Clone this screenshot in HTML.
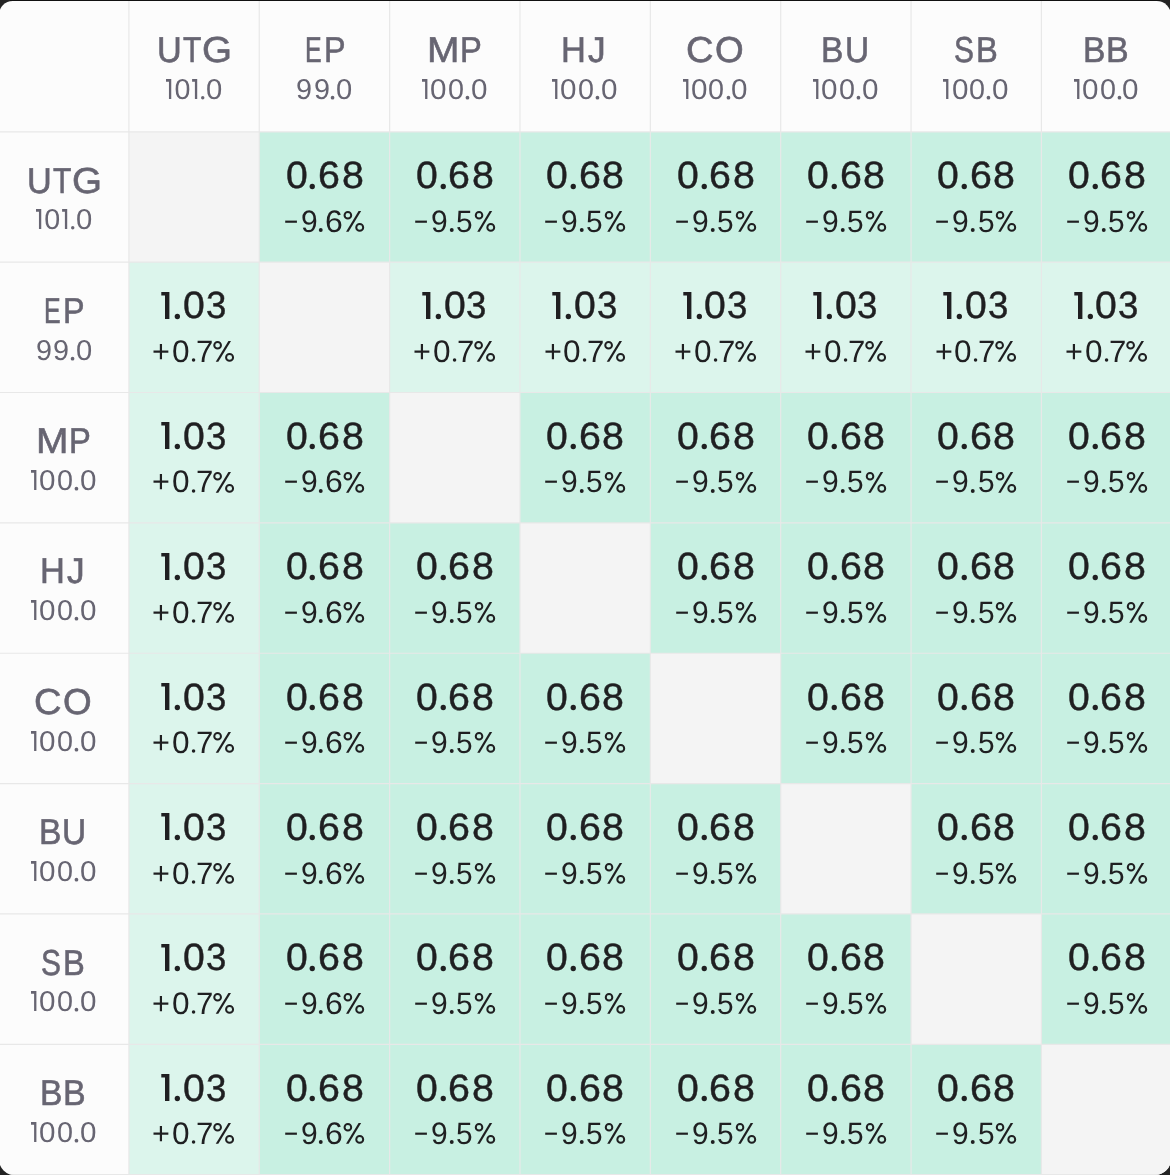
<!DOCTYPE html>
<html><head><meta charset="utf-8"><style>
html,body{margin:0;padding:0;width:1170px;height:1175px;overflow:hidden;background:#232323;}
#top{position:absolute;left:10px;top:0;width:1150px;height:2px;background:#111111;}
#card{position:absolute;left:-0.9px;top:1px;width:1171.8px;height:1174.06px;border-radius:13.7px 14.3px 16px 15.75px;background:#fcfcfc;overflow:hidden;}
#in{position:absolute;left:0.9px;top:-1px;width:1170px;height:1175px;will-change:transform;}
b{position:absolute;display:block;}
.gl{position:absolute;left:0;top:0;}
.t{position:absolute;width:0;height:0;line-height:1;white-space:nowrap;font-family:"Liberation Sans",sans-serif;text-rendering:geometricPrecision;}
.t>i{position:absolute;top:0;font-style:normal;transform-origin:0 0;}
.lab{font-size:36.0px;color:#676572;}
.lab>i{-webkit-text-stroke:0.6px #676572;}
.num{font-size:28.7px;color:#676572;}
.val{font-size:37.9px;color:#1f1f21;}
.val>i{-webkit-text-stroke:0.45px #1f1f21;}
.pct{font-size:31.0px;color:#1f1f21;}
.sv{position:absolute;overflow:visible;}
.numv{fill:#676572;}
.valv{fill:#1f1f21;}
.pctv{fill:none;stroke:#1f1f21;stroke-width:2px;}
.pctv .d{fill:#1f1f21;stroke:none;}
.s0>i:nth-child(2){left:-19.59px;transform:scaleX(1.000)}
.s0>i:nth-child(5){left:12.09px;transform:scaleX(1.021)}
.s1>i:nth-child(1){left:-28.09px;transform:scaleX(1.003)}
.s1>i:nth-child(2){left:-10.89px;transform:scaleX(1.003)}
.s1>i:nth-child(4){left:11.99px;transform:scaleX(1.018)}
.s2>i:nth-child(2){left:-24.72px;transform:scaleX(1.032)}
.s2>i:nth-child(3){left:-7.09px;transform:scaleX(1.003)}
.s2>i:nth-child(5){left:15.88px;transform:scaleX(1.032)}
.s3>i:nth-child(1){left:-38.81px;transform:scaleX(1.032)}
.s3>i:nth-child(3){left:-6.33px;transform:scaleX(1.039)}
.s3>i:nth-child(4){left:17.07px;transform:scaleX(1.038)}
.s4>i:nth-child(3){left:-11.31px;transform:scaleX(1.032)}
.s4>i:nth-child(4){left:11.57px;transform:scaleX(0.967)}
.s5>i:nth-child(1){left:-40.91px;transform:scaleX(0.779)}
.s5>i:nth-child(2){left:-23.91px;transform:scaleX(0.969)}
.s5>i:nth-child(4){left:1.29px;transform:scaleX(0.964)}
.s6>i:nth-child(1){left:-40.91px;transform:scaleX(0.779)}
.s6>i:nth-child(2){left:-23.91px;transform:scaleX(0.969)}
.s6>i:nth-child(4){left:0.2px;transform:scaleX(1.032)}
.s7>i:nth-child(1){left:-41.63px;transform:scaleX(0.986)}
.s7>i:nth-child(2){left:-21.88px;transform:scaleX(1.019)}
.s7>i:nth-child(4){left:2.04px;transform:scaleX(1.004)}
.s8>i:nth-child(1){left:-36.88px;transform:scaleX(0.952)}
.s8>i:nth-child(2){left:-10.82px;transform:scaleX(0.833)}
.s8>i:nth-child(3){left:8.39px;transform:scaleX(1.071)}
.s9>i:nth-child(1){left:-19.47px;transform:scaleX(0.692)}
.s9>i:nth-child(2){left:-0.93px;transform:scaleX(0.898)}
.s10>i:nth-child(1){left:-27.82px;transform:scaleX(1.081)}
.s10>i:nth-child(2){left:4.95px;transform:scaleX(0.909)}
.s11>i:nth-child(1){left:-23.68px;transform:scaleX(0.957)}
.s11>i:nth-child(2){left:3.11px;transform:scaleX(0.980)}
.s12>i:nth-child(1){left:-29.69px;transform:scaleX(1.060)}
.s12>i:nth-child(2){left:-0.83px;transform:scaleX(1.024)}
.s13>i:nth-child(1){left:-24.82px;transform:scaleX(0.934)}
.s13>i:nth-child(2){left:-1.32px;transform:scaleX(0.929)}
.s14>i:nth-child(1){left:-22.46px;transform:scaleX(0.831)}
.s14>i:nth-child(2){left:-0.65px;transform:scaleX(0.909)}
.s15>i:nth-child(1){left:-24.02px;transform:scaleX(0.934)}
.s15>i:nth-child(2){left:-0.95px;transform:scaleX(0.944)}
</style></head><body>
<div id="top"></div>
<div id="card"><div id="in">
<b style="left:128.9px;top:131.8px;width:130.36px;height:130.36px;background:#f4f4f4"></b>
<b style="left:259.26px;top:131.8px;width:130.36px;height:130.36px;background:#c8f0e2"></b>
<b style="left:389.62px;top:131.8px;width:130.36px;height:130.36px;background:#c8f0e2"></b>
<b style="left:519.98px;top:131.8px;width:130.36px;height:130.36px;background:#c8f0e2"></b>
<b style="left:650.34px;top:131.8px;width:130.36px;height:130.36px;background:#c8f0e2"></b>
<b style="left:780.7px;top:131.8px;width:130.36px;height:130.36px;background:#c8f0e2"></b>
<b style="left:911.06px;top:131.8px;width:130.36px;height:130.36px;background:#c8f0e2"></b>
<b style="left:1041.42px;top:131.8px;width:133.58px;height:130.36px;background:#c8f0e2"></b>
<b style="left:128.9px;top:262.16px;width:130.36px;height:130.36px;background:#dcf5ec"></b>
<b style="left:259.26px;top:262.16px;width:130.36px;height:130.36px;background:#f4f4f4"></b>
<b style="left:389.62px;top:262.16px;width:130.36px;height:130.36px;background:#dcf5ec"></b>
<b style="left:519.98px;top:262.16px;width:130.36px;height:130.36px;background:#dcf5ec"></b>
<b style="left:650.34px;top:262.16px;width:130.36px;height:130.36px;background:#dcf5ec"></b>
<b style="left:780.7px;top:262.16px;width:130.36px;height:130.36px;background:#dcf5ec"></b>
<b style="left:911.06px;top:262.16px;width:130.36px;height:130.36px;background:#dcf5ec"></b>
<b style="left:1041.42px;top:262.16px;width:133.58px;height:130.36px;background:#dcf5ec"></b>
<b style="left:128.9px;top:392.52px;width:130.36px;height:130.36px;background:#dcf5ec"></b>
<b style="left:259.26px;top:392.52px;width:130.36px;height:130.36px;background:#c8f0e2"></b>
<b style="left:389.62px;top:392.52px;width:130.36px;height:130.36px;background:#f4f4f4"></b>
<b style="left:519.98px;top:392.52px;width:130.36px;height:130.36px;background:#c8f0e2"></b>
<b style="left:650.34px;top:392.52px;width:130.36px;height:130.36px;background:#c8f0e2"></b>
<b style="left:780.7px;top:392.52px;width:130.36px;height:130.36px;background:#c8f0e2"></b>
<b style="left:911.06px;top:392.52px;width:130.36px;height:130.36px;background:#c8f0e2"></b>
<b style="left:1041.42px;top:392.52px;width:133.58px;height:130.36px;background:#c8f0e2"></b>
<b style="left:128.9px;top:522.88px;width:130.36px;height:130.36px;background:#dcf5ec"></b>
<b style="left:259.26px;top:522.88px;width:130.36px;height:130.36px;background:#c8f0e2"></b>
<b style="left:389.62px;top:522.88px;width:130.36px;height:130.36px;background:#c8f0e2"></b>
<b style="left:519.98px;top:522.88px;width:130.36px;height:130.36px;background:#f4f4f4"></b>
<b style="left:650.34px;top:522.88px;width:130.36px;height:130.36px;background:#c8f0e2"></b>
<b style="left:780.7px;top:522.88px;width:130.36px;height:130.36px;background:#c8f0e2"></b>
<b style="left:911.06px;top:522.88px;width:130.36px;height:130.36px;background:#c8f0e2"></b>
<b style="left:1041.42px;top:522.88px;width:133.58px;height:130.36px;background:#c8f0e2"></b>
<b style="left:128.9px;top:653.24px;width:130.36px;height:130.36px;background:#dcf5ec"></b>
<b style="left:259.26px;top:653.24px;width:130.36px;height:130.36px;background:#c8f0e2"></b>
<b style="left:389.62px;top:653.24px;width:130.36px;height:130.36px;background:#c8f0e2"></b>
<b style="left:519.98px;top:653.24px;width:130.36px;height:130.36px;background:#c8f0e2"></b>
<b style="left:650.34px;top:653.24px;width:130.36px;height:130.36px;background:#f4f4f4"></b>
<b style="left:780.7px;top:653.24px;width:130.36px;height:130.36px;background:#c8f0e2"></b>
<b style="left:911.06px;top:653.24px;width:130.36px;height:130.36px;background:#c8f0e2"></b>
<b style="left:1041.42px;top:653.24px;width:133.58px;height:130.36px;background:#c8f0e2"></b>
<b style="left:128.9px;top:783.6px;width:130.36px;height:130.36px;background:#dcf5ec"></b>
<b style="left:259.26px;top:783.6px;width:130.36px;height:130.36px;background:#c8f0e2"></b>
<b style="left:389.62px;top:783.6px;width:130.36px;height:130.36px;background:#c8f0e2"></b>
<b style="left:519.98px;top:783.6px;width:130.36px;height:130.36px;background:#c8f0e2"></b>
<b style="left:650.34px;top:783.6px;width:130.36px;height:130.36px;background:#c8f0e2"></b>
<b style="left:780.7px;top:783.6px;width:130.36px;height:130.36px;background:#f4f4f4"></b>
<b style="left:911.06px;top:783.6px;width:130.36px;height:130.36px;background:#c8f0e2"></b>
<b style="left:1041.42px;top:783.6px;width:133.58px;height:130.36px;background:#c8f0e2"></b>
<b style="left:128.9px;top:913.96px;width:130.36px;height:130.36px;background:#dcf5ec"></b>
<b style="left:259.26px;top:913.96px;width:130.36px;height:130.36px;background:#c8f0e2"></b>
<b style="left:389.62px;top:913.96px;width:130.36px;height:130.36px;background:#c8f0e2"></b>
<b style="left:519.98px;top:913.96px;width:130.36px;height:130.36px;background:#c8f0e2"></b>
<b style="left:650.34px;top:913.96px;width:130.36px;height:130.36px;background:#c8f0e2"></b>
<b style="left:780.7px;top:913.96px;width:130.36px;height:130.36px;background:#c8f0e2"></b>
<b style="left:911.06px;top:913.96px;width:130.36px;height:130.36px;background:#f4f4f4"></b>
<b style="left:1041.42px;top:913.96px;width:133.58px;height:130.36px;background:#c8f0e2"></b>
<b style="left:128.9px;top:1044.32px;width:130.36px;height:135.68px;background:#dcf5ec"></b>
<b style="left:259.26px;top:1044.32px;width:130.36px;height:135.68px;background:#c8f0e2"></b>
<b style="left:389.62px;top:1044.32px;width:130.36px;height:135.68px;background:#c8f0e2"></b>
<b style="left:519.98px;top:1044.32px;width:130.36px;height:135.68px;background:#c8f0e2"></b>
<b style="left:650.34px;top:1044.32px;width:130.36px;height:135.68px;background:#c8f0e2"></b>
<b style="left:780.7px;top:1044.32px;width:130.36px;height:135.68px;background:#c8f0e2"></b>
<b style="left:911.06px;top:1044.32px;width:130.36px;height:135.68px;background:#c8f0e2"></b>
<b style="left:1041.42px;top:1044.32px;width:133.58px;height:135.68px;background:#f4f4f4"></b>
<svg class="gl" width="1170" height="1175"><path d="M128.9 0V1180M259.26 0V1180M389.62 0V1180M519.98 0V1180M650.34 0V1180M780.7 0V1180M911.06 0V1180M1041.42 0V1180M0 131.8H1180M0 262.16H1180M0 392.52H1180M0 522.88H1180M0 653.24H1180M0 783.6H1180M0 913.96H1180M0 1044.32H1180M0 1174.68H1180" stroke="#e8e8e8" stroke-width="1.2" fill="none"/></svg>
<div class="t lab s8" style="left:194.08px;top:31.74px"><i>U</i><i>T</i><i>G</i></div>
<div class="t num s0" style="left:194.08px;top:76.04px"><i></i><i>0</i><i></i><i></i><i>0</i></div><svg class="sv numv" style="left:144.08px;top:78.94px" width="100" height="30" viewBox="-50 0 100 30"><path d="M-22.75 0V20H-25.05V2.7H-28V0Z"/><path d="M3.2 0V20H0.9V2.7H-1.9V0Z"/><circle class="d" cx="8.72" cy="18.7" r="1.72"/></svg>
<div class="t lab s9" style="left:324.44px;top:31.74px"><i>E</i><i>P</i></div>
<div class="t num s1" style="left:324.44px;top:76.04px"><i>9</i><i>9</i><i></i><i>0</i></div><svg class="sv numv" style="left:274.44px;top:78.94px" width="100" height="30" viewBox="-50 0 100 30"><circle class="d" cx="8.55" cy="18.7" r="1.85"/></svg>
<div class="t lab s10" style="left:454.8px;top:31.74px"><i>M</i><i>P</i></div>
<div class="t num s2" style="left:454.8px;top:76.04px"><i></i><i>0</i><i>0</i><i></i><i>0</i></div><svg class="sv numv" style="left:404.8px;top:78.94px" width="100" height="30" viewBox="-50 0 100 30"><path d="M-27.6 0V20H-29.9V2.7H-33V0Z"/><circle class="d" cx="12.45" cy="18.7" r="1.85"/></svg>
<div class="t lab s11" style="left:585.16px;top:31.74px"><i>H</i><i>J</i></div>
<div class="t num s2" style="left:585.16px;top:76.04px"><i></i><i>0</i><i>0</i><i></i><i>0</i></div><svg class="sv numv" style="left:535.16px;top:78.94px" width="100" height="30" viewBox="-50 0 100 30"><path d="M-27.6 0V20H-29.9V2.7H-33V0Z"/><circle class="d" cx="12.45" cy="18.7" r="1.85"/></svg>
<div class="t lab s12" style="left:715.52px;top:31.74px"><i>C</i><i>O</i></div>
<div class="t num s2" style="left:715.52px;top:76.04px"><i></i><i>0</i><i>0</i><i></i><i>0</i></div><svg class="sv numv" style="left:665.52px;top:78.94px" width="100" height="30" viewBox="-50 0 100 30"><path d="M-27.6 0V20H-29.9V2.7H-33V0Z"/><circle class="d" cx="12.45" cy="18.7" r="1.85"/></svg>
<div class="t lab s13" style="left:845.88px;top:31.74px"><i>B</i><i>U</i></div>
<div class="t num s2" style="left:845.88px;top:76.04px"><i></i><i>0</i><i>0</i><i></i><i>0</i></div><svg class="sv numv" style="left:795.88px;top:78.94px" width="100" height="30" viewBox="-50 0 100 30"><path d="M-27.6 0V20H-29.9V2.7H-33V0Z"/><circle class="d" cx="12.45" cy="18.7" r="1.85"/></svg>
<div class="t lab s14" style="left:976.24px;top:31.74px"><i>S</i><i>B</i></div>
<div class="t num s2" style="left:976.24px;top:76.04px"><i></i><i>0</i><i>0</i><i></i><i>0</i></div><svg class="sv numv" style="left:926.24px;top:78.94px" width="100" height="30" viewBox="-50 0 100 30"><path d="M-27.6 0V20H-29.9V2.7H-33V0Z"/><circle class="d" cx="12.45" cy="18.7" r="1.85"/></svg>
<div class="t lab s15" style="left:1106.6px;top:31.74px"><i>B</i><i>B</i></div>
<div class="t num s2" style="left:1106.6px;top:76.04px"><i></i><i>0</i><i>0</i><i></i><i>0</i></div><svg class="sv numv" style="left:1056.6px;top:78.94px" width="100" height="30" viewBox="-50 0 100 30"><path d="M-27.6 0V20H-29.9V2.7H-33V0Z"/><circle class="d" cx="12.45" cy="18.7" r="1.85"/></svg>
<div class="t lab s8" style="left:63.72px;top:162.84px"><i>U</i><i>T</i><i>G</i></div>
<div class="t num s0" style="left:63.72px;top:206.21px"><i></i><i>0</i><i></i><i></i><i>0</i></div><svg class="sv numv" style="left:13.72px;top:209.3px" width="100" height="30" viewBox="-50 0 100 30"><path d="M-22.75 0V20H-25.05V2.7H-28V0Z"/><path d="M3.2 0V20H0.9V2.7H-1.9V0Z"/><circle class="d" cx="8.72" cy="18.7" r="1.72"/></svg>
<div class="t val s3" style="left:324.44px;top:158.26px"><i>0</i><i></i><i>6</i><i>8</i></div><svg class="sv valv" style="left:274.44px;top:161.5px" width="100" height="30" viewBox="-50 0 100 30"><circle class="d" cx="-11.75" cy="24.5" r="2.65"/></svg>
<div class="t pct s6" style="left:324.44px;top:206.01px"><i>−</i><i>9</i><i></i><i>6</i><i></i></div><svg class="sv pctv" style="left:274.44px;top:209.9px" width="100" height="30" viewBox="-50 0 100 30"><circle class="d" cx="-3.25" cy="20" r="1.95"/><ellipse cx="23.87" cy="5.25" rx="3.32" ry="3.35"/><ellipse cx="35.71" cy="17.45" rx="3.47" ry="3.35"/><path class="d" d="M22.04 21.7L24.59 21.7L37.14 1.0L34.59 1.0Z"/></svg>
<div class="t val s3" style="left:454.8px;top:158.26px"><i>0</i><i></i><i>6</i><i>8</i></div><svg class="sv valv" style="left:404.8px;top:161.5px" width="100" height="30" viewBox="-50 0 100 30"><circle class="d" cx="-11.75" cy="24.5" r="2.65"/></svg>
<div class="t pct s5" style="left:454.8px;top:206.01px"><i>−</i><i>9</i><i></i><i>5</i><i></i></div><svg class="sv pctv" style="left:404.8px;top:209.9px" width="100" height="30" viewBox="-50 0 100 30"><circle class="d" cx="-3.25" cy="20" r="1.95"/><ellipse cx="24.04" cy="5.25" rx="3.28" ry="3.35"/><ellipse cx="35.76" cy="17.45" rx="3.43" ry="3.35"/><path class="d" d="M22.22 21.7L24.74 21.7L37.17 1.0L34.64 1.0Z"/></svg>
<div class="t val s3" style="left:585.16px;top:158.26px"><i>0</i><i></i><i>6</i><i>8</i></div><svg class="sv valv" style="left:535.16px;top:161.5px" width="100" height="30" viewBox="-50 0 100 30"><circle class="d" cx="-11.75" cy="24.5" r="2.65"/></svg>
<div class="t pct s5" style="left:585.16px;top:206.01px"><i>−</i><i>9</i><i></i><i>5</i><i></i></div><svg class="sv pctv" style="left:535.16px;top:209.9px" width="100" height="30" viewBox="-50 0 100 30"><circle class="d" cx="-3.25" cy="20" r="1.95"/><ellipse cx="24.04" cy="5.25" rx="3.28" ry="3.35"/><ellipse cx="35.76" cy="17.45" rx="3.43" ry="3.35"/><path class="d" d="M22.22 21.7L24.74 21.7L37.17 1.0L34.64 1.0Z"/></svg>
<div class="t val s3" style="left:715.52px;top:158.26px"><i>0</i><i></i><i>6</i><i>8</i></div><svg class="sv valv" style="left:665.52px;top:161.5px" width="100" height="30" viewBox="-50 0 100 30"><circle class="d" cx="-11.75" cy="24.5" r="2.65"/></svg>
<div class="t pct s5" style="left:715.52px;top:206.01px"><i>−</i><i>9</i><i></i><i>5</i><i></i></div><svg class="sv pctv" style="left:665.52px;top:209.9px" width="100" height="30" viewBox="-50 0 100 30"><circle class="d" cx="-3.25" cy="20" r="1.95"/><ellipse cx="24.04" cy="5.25" rx="3.28" ry="3.35"/><ellipse cx="35.76" cy="17.45" rx="3.43" ry="3.35"/><path class="d" d="M22.22 21.7L24.74 21.7L37.17 1.0L34.64 1.0Z"/></svg>
<div class="t val s3" style="left:845.88px;top:158.26px"><i>0</i><i></i><i>6</i><i>8</i></div><svg class="sv valv" style="left:795.88px;top:161.5px" width="100" height="30" viewBox="-50 0 100 30"><circle class="d" cx="-11.75" cy="24.5" r="2.65"/></svg>
<div class="t pct s5" style="left:845.88px;top:206.01px"><i>−</i><i>9</i><i></i><i>5</i><i></i></div><svg class="sv pctv" style="left:795.88px;top:209.9px" width="100" height="30" viewBox="-50 0 100 30"><circle class="d" cx="-3.25" cy="20" r="1.95"/><ellipse cx="24.04" cy="5.25" rx="3.28" ry="3.35"/><ellipse cx="35.76" cy="17.45" rx="3.43" ry="3.35"/><path class="d" d="M22.22 21.7L24.74 21.7L37.17 1.0L34.64 1.0Z"/></svg>
<div class="t val s3" style="left:976.24px;top:158.26px"><i>0</i><i></i><i>6</i><i>8</i></div><svg class="sv valv" style="left:926.24px;top:161.5px" width="100" height="30" viewBox="-50 0 100 30"><circle class="d" cx="-11.75" cy="24.5" r="2.65"/></svg>
<div class="t pct s5" style="left:976.24px;top:206.01px"><i>−</i><i>9</i><i></i><i>5</i><i></i></div><svg class="sv pctv" style="left:926.24px;top:209.9px" width="100" height="30" viewBox="-50 0 100 30"><circle class="d" cx="-3.25" cy="20" r="1.95"/><ellipse cx="24.04" cy="5.25" rx="3.28" ry="3.35"/><ellipse cx="35.76" cy="17.45" rx="3.43" ry="3.35"/><path class="d" d="M22.22 21.7L24.74 21.7L37.17 1.0L34.64 1.0Z"/></svg>
<div class="t val s3" style="left:1106.6px;top:158.26px"><i>0</i><i></i><i>6</i><i>8</i></div><svg class="sv valv" style="left:1056.6px;top:161.5px" width="100" height="30" viewBox="-50 0 100 30"><circle class="d" cx="-11.75" cy="24.5" r="2.65"/></svg>
<div class="t pct s5" style="left:1106.6px;top:206.01px"><i>−</i><i>9</i><i></i><i>5</i><i></i></div><svg class="sv pctv" style="left:1056.6px;top:209.9px" width="100" height="30" viewBox="-50 0 100 30"><circle class="d" cx="-3.25" cy="20" r="1.95"/><ellipse cx="24.04" cy="5.25" rx="3.28" ry="3.35"/><ellipse cx="35.76" cy="17.45" rx="3.43" ry="3.35"/><path class="d" d="M22.22 21.7L24.74 21.7L37.17 1.0L34.64 1.0Z"/></svg>
<div class="t lab s9" style="left:63.72px;top:292.97px"><i>E</i><i>P</i></div>
<div class="t num s1" style="left:63.72px;top:336.93px"><i>9</i><i>9</i><i></i><i>0</i></div><svg class="sv numv" style="left:13.72px;top:339.66px" width="100" height="30" viewBox="-50 0 100 30"><circle class="d" cx="8.55" cy="18.7" r="1.85"/></svg>
<div class="t val s4" style="left:194.08px;top:287.98px"><i></i><i></i><i>0</i><i>3</i></div><svg class="sv valv" style="left:144.08px;top:291.86px" width="100" height="30" viewBox="-50 0 100 30"><path d="M-24.6 0V27H-29V3.6H-32.7V0Z"/><circle class="d" cx="-16.65" cy="24.5" r="2.65"/></svg>
<div class="t pct s7" style="left:194.08px;top:335.61px"><i>+</i><i>0</i><i></i><i>7</i><i></i></div><svg class="sv pctv" style="left:144.08px;top:340.26px" width="100" height="30" viewBox="-50 0 100 30"><circle class="d" cx="-0.45" cy="20" r="1.75"/><ellipse cx="23.61" cy="5.25" rx="3.35" ry="3.35"/><ellipse cx="35.57" cy="17.45" rx="3.5" ry="3.35"/><path class="d" d="M21.76 21.7L24.33 21.7L37.01 1.0L34.43 1.0Z"/></svg>
<div class="t val s4" style="left:454.8px;top:287.98px"><i></i><i></i><i>0</i><i>3</i></div><svg class="sv valv" style="left:404.8px;top:291.86px" width="100" height="30" viewBox="-50 0 100 30"><path d="M-24.6 0V27H-29V3.6H-32.7V0Z"/><circle class="d" cx="-16.65" cy="24.5" r="2.65"/></svg>
<div class="t pct s7" style="left:454.8px;top:335.61px"><i>+</i><i>0</i><i></i><i>7</i><i></i></div><svg class="sv pctv" style="left:404.8px;top:340.26px" width="100" height="30" viewBox="-50 0 100 30"><circle class="d" cx="-0.45" cy="20" r="1.75"/><ellipse cx="23.61" cy="5.25" rx="3.35" ry="3.35"/><ellipse cx="35.57" cy="17.45" rx="3.5" ry="3.35"/><path class="d" d="M21.76 21.7L24.33 21.7L37.01 1.0L34.43 1.0Z"/></svg>
<div class="t val s4" style="left:585.16px;top:287.98px"><i></i><i></i><i>0</i><i>3</i></div><svg class="sv valv" style="left:535.16px;top:291.86px" width="100" height="30" viewBox="-50 0 100 30"><path d="M-24.6 0V27H-29V3.6H-32.7V0Z"/><circle class="d" cx="-16.65" cy="24.5" r="2.65"/></svg>
<div class="t pct s7" style="left:585.16px;top:335.61px"><i>+</i><i>0</i><i></i><i>7</i><i></i></div><svg class="sv pctv" style="left:535.16px;top:340.26px" width="100" height="30" viewBox="-50 0 100 30"><circle class="d" cx="-0.45" cy="20" r="1.75"/><ellipse cx="23.61" cy="5.25" rx="3.35" ry="3.35"/><ellipse cx="35.57" cy="17.45" rx="3.5" ry="3.35"/><path class="d" d="M21.76 21.7L24.33 21.7L37.01 1.0L34.43 1.0Z"/></svg>
<div class="t val s4" style="left:715.52px;top:287.98px"><i></i><i></i><i>0</i><i>3</i></div><svg class="sv valv" style="left:665.52px;top:291.86px" width="100" height="30" viewBox="-50 0 100 30"><path d="M-24.6 0V27H-29V3.6H-32.7V0Z"/><circle class="d" cx="-16.65" cy="24.5" r="2.65"/></svg>
<div class="t pct s7" style="left:715.52px;top:335.61px"><i>+</i><i>0</i><i></i><i>7</i><i></i></div><svg class="sv pctv" style="left:665.52px;top:340.26px" width="100" height="30" viewBox="-50 0 100 30"><circle class="d" cx="-0.45" cy="20" r="1.75"/><ellipse cx="23.61" cy="5.25" rx="3.35" ry="3.35"/><ellipse cx="35.57" cy="17.45" rx="3.5" ry="3.35"/><path class="d" d="M21.76 21.7L24.33 21.7L37.01 1.0L34.43 1.0Z"/></svg>
<div class="t val s4" style="left:845.88px;top:287.98px"><i></i><i></i><i>0</i><i>3</i></div><svg class="sv valv" style="left:795.88px;top:291.86px" width="100" height="30" viewBox="-50 0 100 30"><path d="M-24.6 0V27H-29V3.6H-32.7V0Z"/><circle class="d" cx="-16.65" cy="24.5" r="2.65"/></svg>
<div class="t pct s7" style="left:845.88px;top:335.61px"><i>+</i><i>0</i><i></i><i>7</i><i></i></div><svg class="sv pctv" style="left:795.88px;top:340.26px" width="100" height="30" viewBox="-50 0 100 30"><circle class="d" cx="-0.45" cy="20" r="1.75"/><ellipse cx="23.61" cy="5.25" rx="3.35" ry="3.35"/><ellipse cx="35.57" cy="17.45" rx="3.5" ry="3.35"/><path class="d" d="M21.76 21.7L24.33 21.7L37.01 1.0L34.43 1.0Z"/></svg>
<div class="t val s4" style="left:976.24px;top:287.98px"><i></i><i></i><i>0</i><i>3</i></div><svg class="sv valv" style="left:926.24px;top:291.86px" width="100" height="30" viewBox="-50 0 100 30"><path d="M-24.6 0V27H-29V3.6H-32.7V0Z"/><circle class="d" cx="-16.65" cy="24.5" r="2.65"/></svg>
<div class="t pct s7" style="left:976.24px;top:335.61px"><i>+</i><i>0</i><i></i><i>7</i><i></i></div><svg class="sv pctv" style="left:926.24px;top:340.26px" width="100" height="30" viewBox="-50 0 100 30"><circle class="d" cx="-0.45" cy="20" r="1.75"/><ellipse cx="23.61" cy="5.25" rx="3.35" ry="3.35"/><ellipse cx="35.57" cy="17.45" rx="3.5" ry="3.35"/><path class="d" d="M21.76 21.7L24.33 21.7L37.01 1.0L34.43 1.0Z"/></svg>
<div class="t val s4" style="left:1106.6px;top:287.98px"><i></i><i></i><i>0</i><i>3</i></div><svg class="sv valv" style="left:1056.6px;top:291.86px" width="100" height="30" viewBox="-50 0 100 30"><path d="M-24.6 0V27H-29V3.6H-32.7V0Z"/><circle class="d" cx="-16.65" cy="24.5" r="2.65"/></svg>
<div class="t pct s7" style="left:1106.6px;top:335.61px"><i>+</i><i>0</i><i></i><i>7</i><i></i></div><svg class="sv pctv" style="left:1056.6px;top:340.26px" width="100" height="30" viewBox="-50 0 100 30"><circle class="d" cx="-0.45" cy="20" r="1.75"/><ellipse cx="23.61" cy="5.25" rx="3.35" ry="3.35"/><ellipse cx="35.57" cy="17.45" rx="3.5" ry="3.35"/><path class="d" d="M21.76 21.7L24.33 21.7L37.01 1.0L34.43 1.0Z"/></svg>
<div class="t lab s10" style="left:63.72px;top:422.82px"><i>M</i><i>P</i></div>
<div class="t num s2" style="left:63.72px;top:466.65px"><i></i><i>0</i><i>0</i><i></i><i>0</i></div><svg class="sv numv" style="left:13.72px;top:470.02px" width="100" height="30" viewBox="-50 0 100 30"><path d="M-27.6 0V20H-29.9V2.7H-33V0Z"/><circle class="d" cx="12.45" cy="18.7" r="1.85"/></svg>
<div class="t val s4" style="left:194.08px;top:418.7px"><i></i><i></i><i>0</i><i>3</i></div><svg class="sv valv" style="left:144.08px;top:422.22px" width="100" height="30" viewBox="-50 0 100 30"><path d="M-24.6 0V27H-29V3.6H-32.7V0Z"/><circle class="d" cx="-16.65" cy="24.5" r="2.65"/></svg>
<div class="t pct s7" style="left:194.08px;top:465.97px"><i>+</i><i>0</i><i></i><i>7</i><i></i></div><svg class="sv pctv" style="left:144.08px;top:470.62px" width="100" height="30" viewBox="-50 0 100 30"><circle class="d" cx="-0.45" cy="20" r="1.75"/><ellipse cx="23.61" cy="5.25" rx="3.35" ry="3.35"/><ellipse cx="35.57" cy="17.45" rx="3.5" ry="3.35"/><path class="d" d="M21.76 21.7L24.33 21.7L37.01 1.0L34.43 1.0Z"/></svg>
<div class="t val s3" style="left:324.44px;top:418.7px"><i>0</i><i></i><i>6</i><i>8</i></div><svg class="sv valv" style="left:274.44px;top:422.22px" width="100" height="30" viewBox="-50 0 100 30"><circle class="d" cx="-11.75" cy="24.5" r="2.65"/></svg>
<div class="t pct s6" style="left:324.44px;top:465.97px"><i>−</i><i>9</i><i></i><i>6</i><i></i></div><svg class="sv pctv" style="left:274.44px;top:470.62px" width="100" height="30" viewBox="-50 0 100 30"><circle class="d" cx="-3.25" cy="20" r="1.95"/><ellipse cx="23.87" cy="5.25" rx="3.32" ry="3.35"/><ellipse cx="35.71" cy="17.45" rx="3.47" ry="3.35"/><path class="d" d="M22.04 21.7L24.59 21.7L37.14 1.0L34.59 1.0Z"/></svg>
<div class="t val s3" style="left:585.16px;top:418.7px"><i>0</i><i></i><i>6</i><i>8</i></div><svg class="sv valv" style="left:535.16px;top:422.22px" width="100" height="30" viewBox="-50 0 100 30"><circle class="d" cx="-11.75" cy="24.5" r="2.65"/></svg>
<div class="t pct s5" style="left:585.16px;top:465.97px"><i>−</i><i>9</i><i></i><i>5</i><i></i></div><svg class="sv pctv" style="left:535.16px;top:470.62px" width="100" height="30" viewBox="-50 0 100 30"><circle class="d" cx="-3.25" cy="20" r="1.95"/><ellipse cx="24.04" cy="5.25" rx="3.28" ry="3.35"/><ellipse cx="35.76" cy="17.45" rx="3.43" ry="3.35"/><path class="d" d="M22.22 21.7L24.74 21.7L37.17 1.0L34.64 1.0Z"/></svg>
<div class="t val s3" style="left:715.52px;top:418.7px"><i>0</i><i></i><i>6</i><i>8</i></div><svg class="sv valv" style="left:665.52px;top:422.22px" width="100" height="30" viewBox="-50 0 100 30"><circle class="d" cx="-11.75" cy="24.5" r="2.65"/></svg>
<div class="t pct s5" style="left:715.52px;top:465.97px"><i>−</i><i>9</i><i></i><i>5</i><i></i></div><svg class="sv pctv" style="left:665.52px;top:470.62px" width="100" height="30" viewBox="-50 0 100 30"><circle class="d" cx="-3.25" cy="20" r="1.95"/><ellipse cx="24.04" cy="5.25" rx="3.28" ry="3.35"/><ellipse cx="35.76" cy="17.45" rx="3.43" ry="3.35"/><path class="d" d="M22.22 21.7L24.74 21.7L37.17 1.0L34.64 1.0Z"/></svg>
<div class="t val s3" style="left:845.88px;top:418.7px"><i>0</i><i></i><i>6</i><i>8</i></div><svg class="sv valv" style="left:795.88px;top:422.22px" width="100" height="30" viewBox="-50 0 100 30"><circle class="d" cx="-11.75" cy="24.5" r="2.65"/></svg>
<div class="t pct s5" style="left:845.88px;top:465.97px"><i>−</i><i>9</i><i></i><i>5</i><i></i></div><svg class="sv pctv" style="left:795.88px;top:470.62px" width="100" height="30" viewBox="-50 0 100 30"><circle class="d" cx="-3.25" cy="20" r="1.95"/><ellipse cx="24.04" cy="5.25" rx="3.28" ry="3.35"/><ellipse cx="35.76" cy="17.45" rx="3.43" ry="3.35"/><path class="d" d="M22.22 21.7L24.74 21.7L37.17 1.0L34.64 1.0Z"/></svg>
<div class="t val s3" style="left:976.24px;top:418.7px"><i>0</i><i></i><i>6</i><i>8</i></div><svg class="sv valv" style="left:926.24px;top:422.22px" width="100" height="30" viewBox="-50 0 100 30"><circle class="d" cx="-11.75" cy="24.5" r="2.65"/></svg>
<div class="t pct s5" style="left:976.24px;top:465.97px"><i>−</i><i>9</i><i></i><i>5</i><i></i></div><svg class="sv pctv" style="left:926.24px;top:470.62px" width="100" height="30" viewBox="-50 0 100 30"><circle class="d" cx="-3.25" cy="20" r="1.95"/><ellipse cx="24.04" cy="5.25" rx="3.28" ry="3.35"/><ellipse cx="35.76" cy="17.45" rx="3.43" ry="3.35"/><path class="d" d="M22.22 21.7L24.74 21.7L37.17 1.0L34.64 1.0Z"/></svg>
<div class="t val s3" style="left:1106.6px;top:418.7px"><i>0</i><i></i><i>6</i><i>8</i></div><svg class="sv valv" style="left:1056.6px;top:422.22px" width="100" height="30" viewBox="-50 0 100 30"><circle class="d" cx="-11.75" cy="24.5" r="2.65"/></svg>
<div class="t pct s5" style="left:1106.6px;top:465.97px"><i>−</i><i>9</i><i></i><i>5</i><i></i></div><svg class="sv pctv" style="left:1056.6px;top:470.62px" width="100" height="30" viewBox="-50 0 100 30"><circle class="d" cx="-3.25" cy="20" r="1.95"/><ellipse cx="24.04" cy="5.25" rx="3.28" ry="3.35"/><ellipse cx="35.76" cy="17.45" rx="3.43" ry="3.35"/><path class="d" d="M22.22 21.7L24.74 21.7L37.17 1.0L34.64 1.0Z"/></svg>
<div class="t lab s11" style="left:63.72px;top:553.18px"><i>H</i><i>J</i></div>
<div class="t num s2" style="left:63.72px;top:597.37px"><i></i><i>0</i><i>0</i><i></i><i>0</i></div><svg class="sv numv" style="left:13.72px;top:600.38px" width="100" height="30" viewBox="-50 0 100 30"><path d="M-27.6 0V20H-29.9V2.7H-33V0Z"/><circle class="d" cx="12.45" cy="18.7" r="1.85"/></svg>
<div class="t val s4" style="left:194.08px;top:549.42px"><i></i><i></i><i>0</i><i>3</i></div><svg class="sv valv" style="left:144.08px;top:552.58px" width="100" height="30" viewBox="-50 0 100 30"><path d="M-24.6 0V27H-29V3.6H-32.7V0Z"/><circle class="d" cx="-16.65" cy="24.5" r="2.65"/></svg>
<div class="t pct s7" style="left:194.08px;top:597.17px"><i>+</i><i>0</i><i></i><i>7</i><i></i></div><svg class="sv pctv" style="left:144.08px;top:600.98px" width="100" height="30" viewBox="-50 0 100 30"><circle class="d" cx="-0.45" cy="20" r="1.75"/><ellipse cx="23.61" cy="5.25" rx="3.35" ry="3.35"/><ellipse cx="35.57" cy="17.45" rx="3.5" ry="3.35"/><path class="d" d="M21.76 21.7L24.33 21.7L37.01 1.0L34.43 1.0Z"/></svg>
<div class="t val s3" style="left:324.44px;top:549.42px"><i>0</i><i></i><i>6</i><i>8</i></div><svg class="sv valv" style="left:274.44px;top:552.58px" width="100" height="30" viewBox="-50 0 100 30"><circle class="d" cx="-11.75" cy="24.5" r="2.65"/></svg>
<div class="t pct s6" style="left:324.44px;top:597.17px"><i>−</i><i>9</i><i></i><i>6</i><i></i></div><svg class="sv pctv" style="left:274.44px;top:600.98px" width="100" height="30" viewBox="-50 0 100 30"><circle class="d" cx="-3.25" cy="20" r="1.95"/><ellipse cx="23.87" cy="5.25" rx="3.32" ry="3.35"/><ellipse cx="35.71" cy="17.45" rx="3.47" ry="3.35"/><path class="d" d="M22.04 21.7L24.59 21.7L37.14 1.0L34.59 1.0Z"/></svg>
<div class="t val s3" style="left:454.8px;top:549.42px"><i>0</i><i></i><i>6</i><i>8</i></div><svg class="sv valv" style="left:404.8px;top:552.58px" width="100" height="30" viewBox="-50 0 100 30"><circle class="d" cx="-11.75" cy="24.5" r="2.65"/></svg>
<div class="t pct s5" style="left:454.8px;top:597.17px"><i>−</i><i>9</i><i></i><i>5</i><i></i></div><svg class="sv pctv" style="left:404.8px;top:600.98px" width="100" height="30" viewBox="-50 0 100 30"><circle class="d" cx="-3.25" cy="20" r="1.95"/><ellipse cx="24.04" cy="5.25" rx="3.28" ry="3.35"/><ellipse cx="35.76" cy="17.45" rx="3.43" ry="3.35"/><path class="d" d="M22.22 21.7L24.74 21.7L37.17 1.0L34.64 1.0Z"/></svg>
<div class="t val s3" style="left:715.52px;top:549.42px"><i>0</i><i></i><i>6</i><i>8</i></div><svg class="sv valv" style="left:665.52px;top:552.58px" width="100" height="30" viewBox="-50 0 100 30"><circle class="d" cx="-11.75" cy="24.5" r="2.65"/></svg>
<div class="t pct s5" style="left:715.52px;top:597.17px"><i>−</i><i>9</i><i></i><i>5</i><i></i></div><svg class="sv pctv" style="left:665.52px;top:600.98px" width="100" height="30" viewBox="-50 0 100 30"><circle class="d" cx="-3.25" cy="20" r="1.95"/><ellipse cx="24.04" cy="5.25" rx="3.28" ry="3.35"/><ellipse cx="35.76" cy="17.45" rx="3.43" ry="3.35"/><path class="d" d="M22.22 21.7L24.74 21.7L37.17 1.0L34.64 1.0Z"/></svg>
<div class="t val s3" style="left:845.88px;top:549.42px"><i>0</i><i></i><i>6</i><i>8</i></div><svg class="sv valv" style="left:795.88px;top:552.58px" width="100" height="30" viewBox="-50 0 100 30"><circle class="d" cx="-11.75" cy="24.5" r="2.65"/></svg>
<div class="t pct s5" style="left:845.88px;top:597.17px"><i>−</i><i>9</i><i></i><i>5</i><i></i></div><svg class="sv pctv" style="left:795.88px;top:600.98px" width="100" height="30" viewBox="-50 0 100 30"><circle class="d" cx="-3.25" cy="20" r="1.95"/><ellipse cx="24.04" cy="5.25" rx="3.28" ry="3.35"/><ellipse cx="35.76" cy="17.45" rx="3.43" ry="3.35"/><path class="d" d="M22.22 21.7L24.74 21.7L37.17 1.0L34.64 1.0Z"/></svg>
<div class="t val s3" style="left:976.24px;top:549.42px"><i>0</i><i></i><i>6</i><i>8</i></div><svg class="sv valv" style="left:926.24px;top:552.58px" width="100" height="30" viewBox="-50 0 100 30"><circle class="d" cx="-11.75" cy="24.5" r="2.65"/></svg>
<div class="t pct s5" style="left:976.24px;top:597.17px"><i>−</i><i>9</i><i></i><i>5</i><i></i></div><svg class="sv pctv" style="left:926.24px;top:600.98px" width="100" height="30" viewBox="-50 0 100 30"><circle class="d" cx="-3.25" cy="20" r="1.95"/><ellipse cx="24.04" cy="5.25" rx="3.28" ry="3.35"/><ellipse cx="35.76" cy="17.45" rx="3.43" ry="3.35"/><path class="d" d="M22.22 21.7L24.74 21.7L37.17 1.0L34.64 1.0Z"/></svg>
<div class="t val s3" style="left:1106.6px;top:549.42px"><i>0</i><i></i><i>6</i><i>8</i></div><svg class="sv valv" style="left:1056.6px;top:552.58px" width="100" height="30" viewBox="-50 0 100 30"><circle class="d" cx="-11.75" cy="24.5" r="2.65"/></svg>
<div class="t pct s5" style="left:1106.6px;top:597.17px"><i>−</i><i>9</i><i></i><i>5</i><i></i></div><svg class="sv pctv" style="left:1056.6px;top:600.98px" width="100" height="30" viewBox="-50 0 100 30"><circle class="d" cx="-3.25" cy="20" r="1.95"/><ellipse cx="24.04" cy="5.25" rx="3.28" ry="3.35"/><ellipse cx="35.76" cy="17.45" rx="3.43" ry="3.35"/><path class="d" d="M22.22 21.7L24.74 21.7L37.17 1.0L34.64 1.0Z"/></svg>
<div class="t lab s12" style="left:63.72px;top:683.54px"><i>C</i><i>O</i></div>
<div class="t num s2" style="left:63.72px;top:728.09px"><i></i><i>0</i><i>0</i><i></i><i>0</i></div><svg class="sv numv" style="left:13.72px;top:730.74px" width="100" height="30" viewBox="-50 0 100 30"><path d="M-27.6 0V20H-29.9V2.7H-33V0Z"/><circle class="d" cx="12.45" cy="18.7" r="1.85"/></svg>
<div class="t val s4" style="left:194.08px;top:679.81px"><i></i><i></i><i>0</i><i>3</i></div><svg class="sv valv" style="left:144.08px;top:682.94px" width="100" height="30" viewBox="-50 0 100 30"><path d="M-24.6 0V27H-29V3.6H-32.7V0Z"/><circle class="d" cx="-16.65" cy="24.5" r="2.65"/></svg>
<div class="t pct s7" style="left:194.08px;top:726.69px"><i>+</i><i>0</i><i></i><i>7</i><i></i></div><svg class="sv pctv" style="left:144.08px;top:731.34px" width="100" height="30" viewBox="-50 0 100 30"><circle class="d" cx="-0.45" cy="20" r="1.75"/><ellipse cx="23.61" cy="5.25" rx="3.35" ry="3.35"/><ellipse cx="35.57" cy="17.45" rx="3.5" ry="3.35"/><path class="d" d="M21.76 21.7L24.33 21.7L37.01 1.0L34.43 1.0Z"/></svg>
<div class="t val s3" style="left:324.44px;top:679.82px"><i>0</i><i></i><i>6</i><i>8</i></div><svg class="sv valv" style="left:274.44px;top:682.94px" width="100" height="30" viewBox="-50 0 100 30"><circle class="d" cx="-11.75" cy="24.5" r="2.65"/></svg>
<div class="t pct s6" style="left:324.44px;top:726.69px"><i>−</i><i>9</i><i></i><i>6</i><i></i></div><svg class="sv pctv" style="left:274.44px;top:731.34px" width="100" height="30" viewBox="-50 0 100 30"><circle class="d" cx="-3.25" cy="20" r="1.95"/><ellipse cx="23.87" cy="5.25" rx="3.32" ry="3.35"/><ellipse cx="35.71" cy="17.45" rx="3.47" ry="3.35"/><path class="d" d="M22.04 21.7L24.59 21.7L37.14 1.0L34.59 1.0Z"/></svg>
<div class="t val s3" style="left:454.8px;top:679.82px"><i>0</i><i></i><i>6</i><i>8</i></div><svg class="sv valv" style="left:404.8px;top:682.94px" width="100" height="30" viewBox="-50 0 100 30"><circle class="d" cx="-11.75" cy="24.5" r="2.65"/></svg>
<div class="t pct s5" style="left:454.8px;top:726.69px"><i>−</i><i>9</i><i></i><i>5</i><i></i></div><svg class="sv pctv" style="left:404.8px;top:731.34px" width="100" height="30" viewBox="-50 0 100 30"><circle class="d" cx="-3.25" cy="20" r="1.95"/><ellipse cx="24.04" cy="5.25" rx="3.28" ry="3.35"/><ellipse cx="35.76" cy="17.45" rx="3.43" ry="3.35"/><path class="d" d="M22.22 21.7L24.74 21.7L37.17 1.0L34.64 1.0Z"/></svg>
<div class="t val s3" style="left:585.16px;top:679.82px"><i>0</i><i></i><i>6</i><i>8</i></div><svg class="sv valv" style="left:535.16px;top:682.94px" width="100" height="30" viewBox="-50 0 100 30"><circle class="d" cx="-11.75" cy="24.5" r="2.65"/></svg>
<div class="t pct s5" style="left:585.16px;top:726.69px"><i>−</i><i>9</i><i></i><i>5</i><i></i></div><svg class="sv pctv" style="left:535.16px;top:731.34px" width="100" height="30" viewBox="-50 0 100 30"><circle class="d" cx="-3.25" cy="20" r="1.95"/><ellipse cx="24.04" cy="5.25" rx="3.28" ry="3.35"/><ellipse cx="35.76" cy="17.45" rx="3.43" ry="3.35"/><path class="d" d="M22.22 21.7L24.74 21.7L37.17 1.0L34.64 1.0Z"/></svg>
<div class="t val s3" style="left:845.88px;top:679.82px"><i>0</i><i></i><i>6</i><i>8</i></div><svg class="sv valv" style="left:795.88px;top:682.94px" width="100" height="30" viewBox="-50 0 100 30"><circle class="d" cx="-11.75" cy="24.5" r="2.65"/></svg>
<div class="t pct s5" style="left:845.88px;top:726.69px"><i>−</i><i>9</i><i></i><i>5</i><i></i></div><svg class="sv pctv" style="left:795.88px;top:731.34px" width="100" height="30" viewBox="-50 0 100 30"><circle class="d" cx="-3.25" cy="20" r="1.95"/><ellipse cx="24.04" cy="5.25" rx="3.28" ry="3.35"/><ellipse cx="35.76" cy="17.45" rx="3.43" ry="3.35"/><path class="d" d="M22.22 21.7L24.74 21.7L37.17 1.0L34.64 1.0Z"/></svg>
<div class="t val s3" style="left:976.24px;top:679.82px"><i>0</i><i></i><i>6</i><i>8</i></div><svg class="sv valv" style="left:926.24px;top:682.94px" width="100" height="30" viewBox="-50 0 100 30"><circle class="d" cx="-11.75" cy="24.5" r="2.65"/></svg>
<div class="t pct s5" style="left:976.24px;top:726.69px"><i>−</i><i>9</i><i></i><i>5</i><i></i></div><svg class="sv pctv" style="left:926.24px;top:731.34px" width="100" height="30" viewBox="-50 0 100 30"><circle class="d" cx="-3.25" cy="20" r="1.95"/><ellipse cx="24.04" cy="5.25" rx="3.28" ry="3.35"/><ellipse cx="35.76" cy="17.45" rx="3.43" ry="3.35"/><path class="d" d="M22.22 21.7L24.74 21.7L37.17 1.0L34.64 1.0Z"/></svg>
<div class="t val s3" style="left:1106.6px;top:679.82px"><i>0</i><i></i><i>6</i><i>8</i></div><svg class="sv valv" style="left:1056.6px;top:682.94px" width="100" height="30" viewBox="-50 0 100 30"><circle class="d" cx="-11.75" cy="24.5" r="2.65"/></svg>
<div class="t pct s5" style="left:1106.6px;top:726.69px"><i>−</i><i>9</i><i></i><i>5</i><i></i></div><svg class="sv pctv" style="left:1056.6px;top:731.34px" width="100" height="30" viewBox="-50 0 100 30"><circle class="d" cx="-3.25" cy="20" r="1.95"/><ellipse cx="24.04" cy="5.25" rx="3.28" ry="3.35"/><ellipse cx="35.76" cy="17.45" rx="3.43" ry="3.35"/><path class="d" d="M22.22 21.7L24.74 21.7L37.17 1.0L34.64 1.0Z"/></svg>
<div class="t lab s13" style="left:63.72px;top:813.9px"><i>B</i><i>U</i></div>
<div class="t num s2" style="left:63.72px;top:857.81px"><i></i><i>0</i><i>0</i><i></i><i>0</i></div><svg class="sv numv" style="left:13.72px;top:861.1px" width="100" height="30" viewBox="-50 0 100 30"><path d="M-27.6 0V20H-29.9V2.7H-33V0Z"/><circle class="d" cx="12.45" cy="18.7" r="1.85"/></svg>
<div class="t val s4" style="left:194.08px;top:809.86px"><i></i><i></i><i>0</i><i>3</i></div><svg class="sv valv" style="left:144.08px;top:813.3px" width="100" height="30" viewBox="-50 0 100 30"><path d="M-24.6 0V27H-29V3.6H-32.7V0Z"/><circle class="d" cx="-16.65" cy="24.5" r="2.65"/></svg>
<div class="t pct s7" style="left:194.08px;top:857.61px"><i>+</i><i>0</i><i></i><i>7</i><i></i></div><svg class="sv pctv" style="left:144.08px;top:861.7px" width="100" height="30" viewBox="-50 0 100 30"><circle class="d" cx="-0.45" cy="20" r="1.75"/><ellipse cx="23.61" cy="5.25" rx="3.35" ry="3.35"/><ellipse cx="35.57" cy="17.45" rx="3.5" ry="3.35"/><path class="d" d="M21.76 21.7L24.33 21.7L37.01 1.0L34.43 1.0Z"/></svg>
<div class="t val s3" style="left:324.44px;top:809.86px"><i>0</i><i></i><i>6</i><i>8</i></div><svg class="sv valv" style="left:274.44px;top:813.3px" width="100" height="30" viewBox="-50 0 100 30"><circle class="d" cx="-11.75" cy="24.5" r="2.65"/></svg>
<div class="t pct s6" style="left:324.44px;top:857.61px"><i>−</i><i>9</i><i></i><i>6</i><i></i></div><svg class="sv pctv" style="left:274.44px;top:861.7px" width="100" height="30" viewBox="-50 0 100 30"><circle class="d" cx="-3.25" cy="20" r="1.95"/><ellipse cx="23.87" cy="5.25" rx="3.32" ry="3.35"/><ellipse cx="35.71" cy="17.45" rx="3.47" ry="3.35"/><path class="d" d="M22.04 21.7L24.59 21.7L37.14 1.0L34.59 1.0Z"/></svg>
<div class="t val s3" style="left:454.8px;top:809.86px"><i>0</i><i></i><i>6</i><i>8</i></div><svg class="sv valv" style="left:404.8px;top:813.3px" width="100" height="30" viewBox="-50 0 100 30"><circle class="d" cx="-11.75" cy="24.5" r="2.65"/></svg>
<div class="t pct s5" style="left:454.8px;top:857.61px"><i>−</i><i>9</i><i></i><i>5</i><i></i></div><svg class="sv pctv" style="left:404.8px;top:861.7px" width="100" height="30" viewBox="-50 0 100 30"><circle class="d" cx="-3.25" cy="20" r="1.95"/><ellipse cx="24.04" cy="5.25" rx="3.28" ry="3.35"/><ellipse cx="35.76" cy="17.45" rx="3.43" ry="3.35"/><path class="d" d="M22.22 21.7L24.74 21.7L37.17 1.0L34.64 1.0Z"/></svg>
<div class="t val s3" style="left:585.16px;top:809.86px"><i>0</i><i></i><i>6</i><i>8</i></div><svg class="sv valv" style="left:535.16px;top:813.3px" width="100" height="30" viewBox="-50 0 100 30"><circle class="d" cx="-11.75" cy="24.5" r="2.65"/></svg>
<div class="t pct s5" style="left:585.16px;top:857.61px"><i>−</i><i>9</i><i></i><i>5</i><i></i></div><svg class="sv pctv" style="left:535.16px;top:861.7px" width="100" height="30" viewBox="-50 0 100 30"><circle class="d" cx="-3.25" cy="20" r="1.95"/><ellipse cx="24.04" cy="5.25" rx="3.28" ry="3.35"/><ellipse cx="35.76" cy="17.45" rx="3.43" ry="3.35"/><path class="d" d="M22.22 21.7L24.74 21.7L37.17 1.0L34.64 1.0Z"/></svg>
<div class="t val s3" style="left:715.52px;top:809.86px"><i>0</i><i></i><i>6</i><i>8</i></div><svg class="sv valv" style="left:665.52px;top:813.3px" width="100" height="30" viewBox="-50 0 100 30"><circle class="d" cx="-11.75" cy="24.5" r="2.65"/></svg>
<div class="t pct s5" style="left:715.52px;top:857.61px"><i>−</i><i>9</i><i></i><i>5</i><i></i></div><svg class="sv pctv" style="left:665.52px;top:861.7px" width="100" height="30" viewBox="-50 0 100 30"><circle class="d" cx="-3.25" cy="20" r="1.95"/><ellipse cx="24.04" cy="5.25" rx="3.28" ry="3.35"/><ellipse cx="35.76" cy="17.45" rx="3.43" ry="3.35"/><path class="d" d="M22.22 21.7L24.74 21.7L37.17 1.0L34.64 1.0Z"/></svg>
<div class="t val s3" style="left:976.24px;top:809.86px"><i>0</i><i></i><i>6</i><i>8</i></div><svg class="sv valv" style="left:926.24px;top:813.3px" width="100" height="30" viewBox="-50 0 100 30"><circle class="d" cx="-11.75" cy="24.5" r="2.65"/></svg>
<div class="t pct s5" style="left:976.24px;top:857.61px"><i>−</i><i>9</i><i></i><i>5</i><i></i></div><svg class="sv pctv" style="left:926.24px;top:861.7px" width="100" height="30" viewBox="-50 0 100 30"><circle class="d" cx="-3.25" cy="20" r="1.95"/><ellipse cx="24.04" cy="5.25" rx="3.28" ry="3.35"/><ellipse cx="35.76" cy="17.45" rx="3.43" ry="3.35"/><path class="d" d="M22.22 21.7L24.74 21.7L37.17 1.0L34.64 1.0Z"/></svg>
<div class="t val s3" style="left:1106.6px;top:809.86px"><i>0</i><i></i><i>6</i><i>8</i></div><svg class="sv valv" style="left:1056.6px;top:813.3px" width="100" height="30" viewBox="-50 0 100 30"><circle class="d" cx="-11.75" cy="24.5" r="2.65"/></svg>
<div class="t pct s5" style="left:1106.6px;top:857.61px"><i>−</i><i>9</i><i></i><i>5</i><i></i></div><svg class="sv pctv" style="left:1056.6px;top:861.7px" width="100" height="30" viewBox="-50 0 100 30"><circle class="d" cx="-3.25" cy="20" r="1.95"/><ellipse cx="24.04" cy="5.25" rx="3.28" ry="3.35"/><ellipse cx="35.76" cy="17.45" rx="3.43" ry="3.35"/><path class="d" d="M22.22 21.7L24.74 21.7L37.17 1.0L34.64 1.0Z"/></svg>
<div class="t lab s14" style="left:63.72px;top:945.16px"><i>S</i><i>B</i></div>
<div class="t num s2" style="left:63.72px;top:988.19px"><i></i><i>0</i><i>0</i><i></i><i>0</i></div><svg class="sv numv" style="left:13.72px;top:991.46px" width="100" height="30" viewBox="-50 0 100 30"><path d="M-27.6 0V20H-29.9V2.7H-33V0Z"/><circle class="d" cx="12.45" cy="18.7" r="1.85"/></svg>
<div class="t val s4" style="left:194.08px;top:940.15px"><i></i><i></i><i>0</i><i>3</i></div><svg class="sv valv" style="left:144.08px;top:943.66px" width="100" height="30" viewBox="-50 0 100 30"><path d="M-24.6 0V27H-29V3.6H-32.7V0Z"/><circle class="d" cx="-16.65" cy="24.5" r="2.65"/></svg>
<div class="t pct s7" style="left:194.08px;top:988.33px"><i>+</i><i>0</i><i></i><i>7</i><i></i></div><svg class="sv pctv" style="left:144.08px;top:992.06px" width="100" height="30" viewBox="-50 0 100 30"><circle class="d" cx="-0.45" cy="20" r="1.75"/><ellipse cx="23.61" cy="5.25" rx="3.35" ry="3.35"/><ellipse cx="35.57" cy="17.45" rx="3.5" ry="3.35"/><path class="d" d="M21.76 21.7L24.33 21.7L37.01 1.0L34.43 1.0Z"/></svg>
<div class="t val s3" style="left:324.44px;top:940.15px"><i>0</i><i></i><i>6</i><i>8</i></div><svg class="sv valv" style="left:274.44px;top:943.66px" width="100" height="30" viewBox="-50 0 100 30"><circle class="d" cx="-11.75" cy="24.5" r="2.65"/></svg>
<div class="t pct s6" style="left:324.44px;top:988.33px"><i>−</i><i>9</i><i></i><i>6</i><i></i></div><svg class="sv pctv" style="left:274.44px;top:992.06px" width="100" height="30" viewBox="-50 0 100 30"><circle class="d" cx="-3.25" cy="20" r="1.95"/><ellipse cx="23.87" cy="5.25" rx="3.32" ry="3.35"/><ellipse cx="35.71" cy="17.45" rx="3.47" ry="3.35"/><path class="d" d="M22.04 21.7L24.59 21.7L37.14 1.0L34.59 1.0Z"/></svg>
<div class="t val s3" style="left:454.8px;top:940.15px"><i>0</i><i></i><i>6</i><i>8</i></div><svg class="sv valv" style="left:404.8px;top:943.66px" width="100" height="30" viewBox="-50 0 100 30"><circle class="d" cx="-11.75" cy="24.5" r="2.65"/></svg>
<div class="t pct s5" style="left:454.8px;top:988.33px"><i>−</i><i>9</i><i></i><i>5</i><i></i></div><svg class="sv pctv" style="left:404.8px;top:992.06px" width="100" height="30" viewBox="-50 0 100 30"><circle class="d" cx="-3.25" cy="20" r="1.95"/><ellipse cx="24.04" cy="5.25" rx="3.28" ry="3.35"/><ellipse cx="35.76" cy="17.45" rx="3.43" ry="3.35"/><path class="d" d="M22.22 21.7L24.74 21.7L37.17 1.0L34.64 1.0Z"/></svg>
<div class="t val s3" style="left:585.16px;top:940.15px"><i>0</i><i></i><i>6</i><i>8</i></div><svg class="sv valv" style="left:535.16px;top:943.66px" width="100" height="30" viewBox="-50 0 100 30"><circle class="d" cx="-11.75" cy="24.5" r="2.65"/></svg>
<div class="t pct s5" style="left:585.16px;top:988.33px"><i>−</i><i>9</i><i></i><i>5</i><i></i></div><svg class="sv pctv" style="left:535.16px;top:992.06px" width="100" height="30" viewBox="-50 0 100 30"><circle class="d" cx="-3.25" cy="20" r="1.95"/><ellipse cx="24.04" cy="5.25" rx="3.28" ry="3.35"/><ellipse cx="35.76" cy="17.45" rx="3.43" ry="3.35"/><path class="d" d="M22.22 21.7L24.74 21.7L37.17 1.0L34.64 1.0Z"/></svg>
<div class="t val s3" style="left:715.52px;top:940.15px"><i>0</i><i></i><i>6</i><i>8</i></div><svg class="sv valv" style="left:665.52px;top:943.66px" width="100" height="30" viewBox="-50 0 100 30"><circle class="d" cx="-11.75" cy="24.5" r="2.65"/></svg>
<div class="t pct s5" style="left:715.52px;top:988.33px"><i>−</i><i>9</i><i></i><i>5</i><i></i></div><svg class="sv pctv" style="left:665.52px;top:992.06px" width="100" height="30" viewBox="-50 0 100 30"><circle class="d" cx="-3.25" cy="20" r="1.95"/><ellipse cx="24.04" cy="5.25" rx="3.28" ry="3.35"/><ellipse cx="35.76" cy="17.45" rx="3.43" ry="3.35"/><path class="d" d="M22.22 21.7L24.74 21.7L37.17 1.0L34.64 1.0Z"/></svg>
<div class="t val s3" style="left:845.88px;top:940.15px"><i>0</i><i></i><i>6</i><i>8</i></div><svg class="sv valv" style="left:795.88px;top:943.66px" width="100" height="30" viewBox="-50 0 100 30"><circle class="d" cx="-11.75" cy="24.5" r="2.65"/></svg>
<div class="t pct s5" style="left:845.88px;top:988.33px"><i>−</i><i>9</i><i></i><i>5</i><i></i></div><svg class="sv pctv" style="left:795.88px;top:992.06px" width="100" height="30" viewBox="-50 0 100 30"><circle class="d" cx="-3.25" cy="20" r="1.95"/><ellipse cx="24.04" cy="5.25" rx="3.28" ry="3.35"/><ellipse cx="35.76" cy="17.45" rx="3.43" ry="3.35"/><path class="d" d="M22.22 21.7L24.74 21.7L37.17 1.0L34.64 1.0Z"/></svg>
<div class="t val s3" style="left:1106.6px;top:940.15px"><i>0</i><i></i><i>6</i><i>8</i></div><svg class="sv valv" style="left:1056.6px;top:943.66px" width="100" height="30" viewBox="-50 0 100 30"><circle class="d" cx="-11.75" cy="24.5" r="2.65"/></svg>
<div class="t pct s5" style="left:1106.6px;top:988.33px"><i>−</i><i>9</i><i></i><i>5</i><i></i></div><svg class="sv pctv" style="left:1056.6px;top:992.06px" width="100" height="30" viewBox="-50 0 100 30"><circle class="d" cx="-3.25" cy="20" r="1.95"/><ellipse cx="24.04" cy="5.25" rx="3.28" ry="3.35"/><ellipse cx="35.76" cy="17.45" rx="3.43" ry="3.35"/><path class="d" d="M22.22 21.7L24.74 21.7L37.17 1.0L34.64 1.0Z"/></svg>
<div class="t lab s15" style="left:63.72px;top:1074.62px"><i>B</i><i>B</i></div>
<div class="t num s2" style="left:63.72px;top:1119.25px"><i></i><i>0</i><i>0</i><i></i><i>0</i></div><svg class="sv numv" style="left:13.72px;top:1121.82px" width="100" height="30" viewBox="-50 0 100 30"><path d="M-27.6 0V20H-29.9V2.7H-33V0Z"/><circle class="d" cx="12.45" cy="18.7" r="1.85"/></svg>
<div class="t val s4" style="left:194.08px;top:1070.68px"><i></i><i></i><i>0</i><i>3</i></div><svg class="sv valv" style="left:144.08px;top:1074.02px" width="100" height="30" viewBox="-50 0 100 30"><path d="M-24.6 0V27H-29V3.6H-32.7V0Z"/><circle class="d" cx="-16.65" cy="24.5" r="2.65"/></svg>
<div class="t pct s7" style="left:194.08px;top:1117.77px"><i>+</i><i>0</i><i></i><i>7</i><i></i></div><svg class="sv pctv" style="left:144.08px;top:1122.42px" width="100" height="30" viewBox="-50 0 100 30"><circle class="d" cx="-0.45" cy="20" r="1.75"/><ellipse cx="23.61" cy="5.25" rx="3.35" ry="3.35"/><ellipse cx="35.57" cy="17.45" rx="3.5" ry="3.35"/><path class="d" d="M21.76 21.7L24.33 21.7L37.01 1.0L34.43 1.0Z"/></svg>
<div class="t val s3" style="left:324.44px;top:1070.69px"><i>0</i><i></i><i>6</i><i>8</i></div><svg class="sv valv" style="left:274.44px;top:1074.02px" width="100" height="30" viewBox="-50 0 100 30"><circle class="d" cx="-11.75" cy="24.5" r="2.65"/></svg>
<div class="t pct s6" style="left:324.44px;top:1117.77px"><i>−</i><i>9</i><i></i><i>6</i><i></i></div><svg class="sv pctv" style="left:274.44px;top:1122.42px" width="100" height="30" viewBox="-50 0 100 30"><circle class="d" cx="-3.25" cy="20" r="1.95"/><ellipse cx="23.87" cy="5.25" rx="3.32" ry="3.35"/><ellipse cx="35.71" cy="17.45" rx="3.47" ry="3.35"/><path class="d" d="M22.04 21.7L24.59 21.7L37.14 1.0L34.59 1.0Z"/></svg>
<div class="t val s3" style="left:454.8px;top:1070.69px"><i>0</i><i></i><i>6</i><i>8</i></div><svg class="sv valv" style="left:404.8px;top:1074.02px" width="100" height="30" viewBox="-50 0 100 30"><circle class="d" cx="-11.75" cy="24.5" r="2.65"/></svg>
<div class="t pct s5" style="left:454.8px;top:1117.77px"><i>−</i><i>9</i><i></i><i>5</i><i></i></div><svg class="sv pctv" style="left:404.8px;top:1122.42px" width="100" height="30" viewBox="-50 0 100 30"><circle class="d" cx="-3.25" cy="20" r="1.95"/><ellipse cx="24.04" cy="5.25" rx="3.28" ry="3.35"/><ellipse cx="35.76" cy="17.45" rx="3.43" ry="3.35"/><path class="d" d="M22.22 21.7L24.74 21.7L37.17 1.0L34.64 1.0Z"/></svg>
<div class="t val s3" style="left:585.16px;top:1070.69px"><i>0</i><i></i><i>6</i><i>8</i></div><svg class="sv valv" style="left:535.16px;top:1074.02px" width="100" height="30" viewBox="-50 0 100 30"><circle class="d" cx="-11.75" cy="24.5" r="2.65"/></svg>
<div class="t pct s5" style="left:585.16px;top:1117.77px"><i>−</i><i>9</i><i></i><i>5</i><i></i></div><svg class="sv pctv" style="left:535.16px;top:1122.42px" width="100" height="30" viewBox="-50 0 100 30"><circle class="d" cx="-3.25" cy="20" r="1.95"/><ellipse cx="24.04" cy="5.25" rx="3.28" ry="3.35"/><ellipse cx="35.76" cy="17.45" rx="3.43" ry="3.35"/><path class="d" d="M22.22 21.7L24.74 21.7L37.17 1.0L34.64 1.0Z"/></svg>
<div class="t val s3" style="left:715.52px;top:1070.69px"><i>0</i><i></i><i>6</i><i>8</i></div><svg class="sv valv" style="left:665.52px;top:1074.02px" width="100" height="30" viewBox="-50 0 100 30"><circle class="d" cx="-11.75" cy="24.5" r="2.65"/></svg>
<div class="t pct s5" style="left:715.52px;top:1117.77px"><i>−</i><i>9</i><i></i><i>5</i><i></i></div><svg class="sv pctv" style="left:665.52px;top:1122.42px" width="100" height="30" viewBox="-50 0 100 30"><circle class="d" cx="-3.25" cy="20" r="1.95"/><ellipse cx="24.04" cy="5.25" rx="3.28" ry="3.35"/><ellipse cx="35.76" cy="17.45" rx="3.43" ry="3.35"/><path class="d" d="M22.22 21.7L24.74 21.7L37.17 1.0L34.64 1.0Z"/></svg>
<div class="t val s3" style="left:845.88px;top:1070.69px"><i>0</i><i></i><i>6</i><i>8</i></div><svg class="sv valv" style="left:795.88px;top:1074.02px" width="100" height="30" viewBox="-50 0 100 30"><circle class="d" cx="-11.75" cy="24.5" r="2.65"/></svg>
<div class="t pct s5" style="left:845.88px;top:1117.77px"><i>−</i><i>9</i><i></i><i>5</i><i></i></div><svg class="sv pctv" style="left:795.88px;top:1122.42px" width="100" height="30" viewBox="-50 0 100 30"><circle class="d" cx="-3.25" cy="20" r="1.95"/><ellipse cx="24.04" cy="5.25" rx="3.28" ry="3.35"/><ellipse cx="35.76" cy="17.45" rx="3.43" ry="3.35"/><path class="d" d="M22.22 21.7L24.74 21.7L37.17 1.0L34.64 1.0Z"/></svg>
<div class="t val s3" style="left:976.24px;top:1070.69px"><i>0</i><i></i><i>6</i><i>8</i></div><svg class="sv valv" style="left:926.24px;top:1074.02px" width="100" height="30" viewBox="-50 0 100 30"><circle class="d" cx="-11.75" cy="24.5" r="2.65"/></svg>
<div class="t pct s5" style="left:976.24px;top:1117.77px"><i>−</i><i>9</i><i></i><i>5</i><i></i></div><svg class="sv pctv" style="left:926.24px;top:1122.42px" width="100" height="30" viewBox="-50 0 100 30"><circle class="d" cx="-3.25" cy="20" r="1.95"/><ellipse cx="24.04" cy="5.25" rx="3.28" ry="3.35"/><ellipse cx="35.76" cy="17.45" rx="3.43" ry="3.35"/><path class="d" d="M22.22 21.7L24.74 21.7L37.17 1.0L34.64 1.0Z"/></svg>
</div></div>
</body></html>
